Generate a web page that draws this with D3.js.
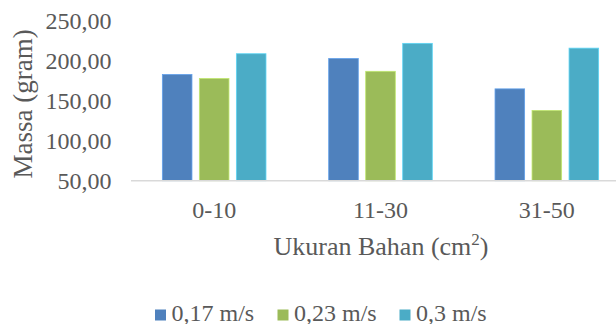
<!DOCTYPE html>
<html>
<head>
<meta charset="utf-8">
<script src="https://cdn.jsdelivr.net/npm/d3@7"></script>
</head>
<body style="margin:0">
<svg id="chart" width="616" height="324"></svg>
<script>
// Material size groups (cm²)
const categories = ["0-10", "11-30", "31-50"];
// Air speed series
const seriesNames = ["0,17 m/s", "0,23 m/s", "0,3 m/s"];
const seriesColors = ["#4f81bd", "#9bbb59", "#4bacc6"];
// Mass (gram) per series, one value per size group
const speed017 = [183, 203, 165];
const speed023 = [178, 187, 138];
const speed030 = [209, 222, 216];
const seriesValues = [speed017, speed023, speed030];
// Y axis ticks
const yTicks = [50, 100, 150, 200, 250];
const yTickLabels = ["50,00", "100,00", "150,00", "200,00", "250,00"];

const svg = d3.select("#chart");
const textColor = "#595959";
const fontFamily = "Liberation Serif";

const y = d3.scaleLinear().domain([50, 250]).range([180.7, 21]);
const x0 = d3.scaleBand().domain(categories).range([131, 630])
  .paddingInner(0.377).paddingOuter(0.1885);
const x1 = d3.scaleBand().domain(seriesNames).range([0, x0.bandwidth()]).paddingInner(0.2);

// Bars
const groups = svg.append("g").selectAll("g")
  .data(categories)
  .join("g")
  .attr("transform", c => `translate(${x0(c)},0)`);

groups.selectAll("rect")
  .data((c, ci) => seriesNames.map((s, si) => ({ s, si, v: seriesValues[si][ci] })))
  .join("rect")
  .attr("x", d => x1(d.s))
  .attr("width", x1.bandwidth())
  .attr("y", d => y(d.v))
  .attr("height", d => y(50) - y(d.v))
  .attr("fill", d => seriesColors[d.si])
  .attr("stroke", d => d3.color(seriesColors[d.si]).brighter(0.6))
  .attr("stroke-width", 0.8);

// Category axis line
svg.append("line")
  .attr("x1", 131).attr("x2", 630)
  .attr("y1", y(50)).attr("y2", y(50))
  .attr("stroke", "#d9d9d9").attr("stroke-width", 1.5);

// Y tick labels
svg.append("g").selectAll("text")
  .data(yTicks)
  .join("text")
  .attr("x", 111.5)
  .attr("y", d => y(d) + 7.8)
  .attr("text-anchor", "end")
  .style("font-family", fontFamily)
  .attr("font-size", 24)
  .attr("fill", textColor)
  .text((d, i) => yTickLabels[i]);

// X tick labels
svg.append("g").selectAll("text")
  .data(categories)
  .join("text")
  .attr("x", c => x0(c) + x0.bandwidth() / 2)
  .attr("y", 217.7)
  .attr("text-anchor", "middle")
  .style("font-family", fontFamily)
  .attr("font-size", 24)
  .attr("fill", textColor)
  .text(c => c);

// Y axis title
svg.append("text")
  .attr("transform", `translate(32,${(y(50) + y(250)) / 2 + 3}) rotate(-90)`)
  .attr("text-anchor", "middle")
  .style("font-family", fontFamily)
  .attr("font-size", 27)
  .attr("fill", textColor)
  .text("Massa (gram)");

// X axis title with superscript
const xt = svg.append("text")
  .attr("x", 381)
  .attr("y", 255)
  .attr("text-anchor", "middle")
  .style("font-family", fontFamily)
  .attr("font-size", 26)
  .attr("fill", textColor);
xt.append("tspan").text("Ukuran Bahan (cm");
xt.append("tspan").attr("font-size", 17).attr("dy", -10).text("2");
xt.append("tspan").attr("dy", 10).text(")");

// Legend
const legendX = [155, 277.5, 399.5];
const legend = svg.append("g").selectAll("g")
  .data(seriesNames)
  .join("g")
  .attr("transform", (d, i) => `translate(${legendX[i]},0)`);
legend.append("rect")
  .attr("x", 0).attr("y", 309.5)
  .attr("width", 11).attr("height", 11)
  .attr("fill", (d, i) => seriesColors[i]);
legend.append("text")
  .attr("x", 16.5).attr("y", 320.5)
  .style("font-family", fontFamily)
  .attr("font-size", 24)
  .attr("fill", textColor)
  .text(d => d);
</script>
</body>
</html>
